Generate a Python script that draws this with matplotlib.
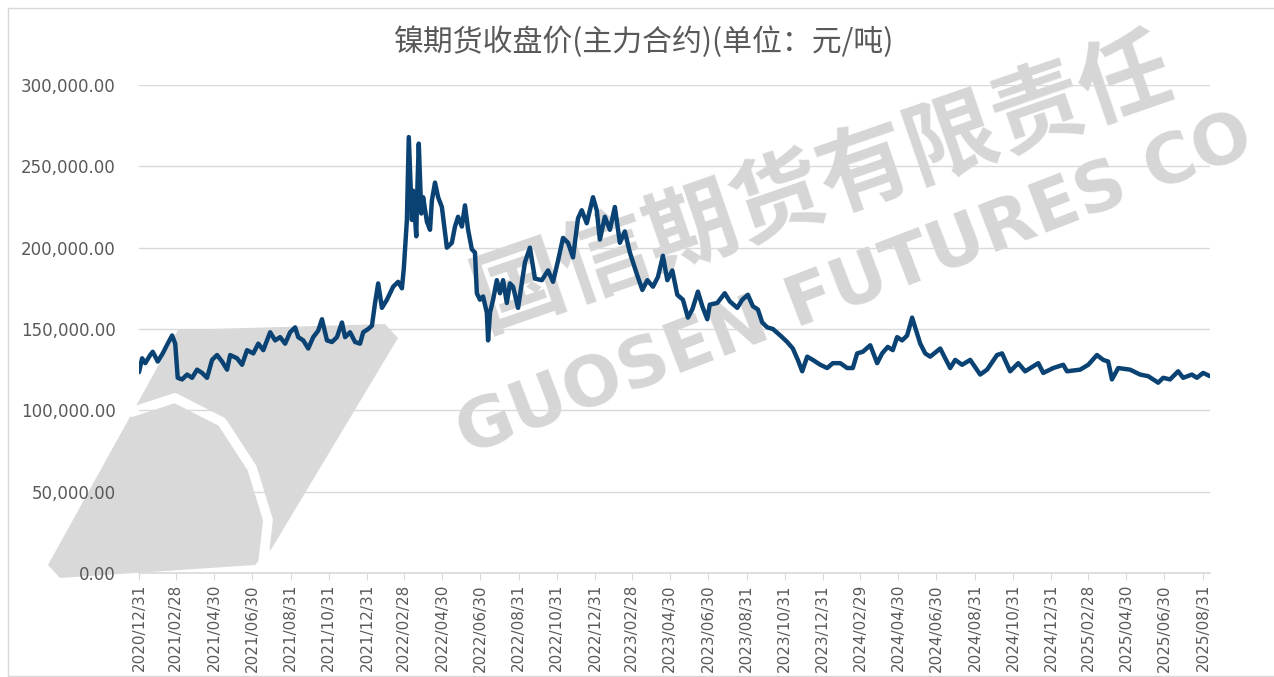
import matplotlib
matplotlib.use("Agg")
import matplotlib.pyplot as plt
import matplotlib.dates as mdates
from matplotlib.patches import Polygon
from matplotlib.lines import Line2D
from matplotlib.ticker import FuncFormatter
import pandas as pd

# closing prices (yuan / ton)
dates = [
    "2020-12-31", "2021-01-05", "2021-01-10", "2021-01-18", "2021-01-22", "2021-01-30",
    "2021-02-07", "2021-02-15", "2021-02-22", "2021-02-27", "2021-03-03", "2021-03-10",
    "2021-03-18", "2021-03-26", "2021-04-03", "2021-04-11", "2021-04-19", "2021-04-27",
    "2021-05-05", "2021-05-13", "2021-05-21", "2021-05-26", "2021-06-06", "2021-06-14",
    "2021-06-22", "2021-07-02", "2021-07-10", "2021-07-18", "2021-07-29", "2021-08-06",
    "2021-08-14", "2021-08-22", "2021-08-30", "2021-09-07", "2021-09-12", "2021-09-20",
    "2021-09-28", "2021-10-06", "2021-10-14", "2021-10-20", "2021-10-28", "2021-11-05",
    "2021-11-13", "2021-11-21", "2021-11-26", "2021-12-04", "2021-12-12", "2021-12-20",
    "2021-12-25", "2022-01-02", "2022-01-08", "2022-01-13", "2022-01-18", "2022-01-24",
    "2022-02-01", "2022-02-11", "2022-02-19", "2022-02-25", "2022-02-28", "2022-03-05",
    "2022-03-08", "2022-03-13", "2022-03-15", "2022-03-20", "2022-03-21", "2022-03-24",
    "2022-03-28", "2022-03-31", "2022-04-06", "2022-04-11", "2022-04-14", "2022-04-19",
    "2022-04-24", "2022-04-30", "2022-05-08", "2022-05-16", "2022-05-21", "2022-05-26",
    "2022-06-01", "2022-06-06", "2022-06-11", "2022-06-17", "2022-06-22", "2022-06-25",
    "2022-06-30", "2022-07-05", "2022-07-11", "2022-07-13", "2022-07-16", "2022-07-21",
    "2022-07-27", "2022-08-01", "2022-08-06", "2022-08-12", "2022-08-17", "2022-08-22",
    "2022-08-30", "2022-09-10", "2022-09-18", "2022-09-26", "2022-10-07", "2022-10-17",
    "2022-10-25", "2022-11-02", "2022-11-10", "2022-11-18", "2022-11-26", "2022-12-04",
    "2022-12-10", "2022-12-18", "2022-12-28", "2023-01-03", "2023-01-08", "2023-01-16",
    "2023-01-24", "2023-02-01", "2023-02-09", "2023-02-17", "2023-02-25", "2023-03-08",
    "2023-03-17", "2023-03-25", "2023-04-03", "2023-04-11", "2023-04-19", "2023-04-26",
    "2023-05-04", "2023-05-12", "2023-05-21", "2023-05-29", "2023-06-05", "2023-06-14",
    "2023-06-21", "2023-06-29", "2023-07-03", "2023-07-15", "2023-07-27", "2023-08-04",
    "2023-08-16", "2023-08-24", "2023-09-02", "2023-09-10", "2023-09-18", "2023-09-25",
    "2023-10-03", "2023-10-12", "2023-10-24", "2023-11-04", "2023-11-13", "2023-11-21",
    "2023-11-28", "2023-12-06", "2023-12-15", "2023-12-27", "2024-01-07", "2024-01-16",
    "2024-01-28", "2024-02-08", "2024-02-17", "2024-02-24", "2024-03-04", "2024-03-16",
    "2024-03-27", "2024-04-04", "2024-04-13", "2024-04-21", "2024-04-28", "2024-05-06",
    "2024-05-14", "2024-05-22", "2024-06-04", "2024-06-12", "2024-06-20", "2024-07-06",
    "2024-07-22", "2024-07-30", "2024-08-10", "2024-08-23", "2024-09-08", "2024-09-19",
    "2024-10-05", "2024-10-13", "2024-10-26", "2024-11-08", "2024-11-19", "2024-12-10",
    "2024-12-18", "2025-01-03", "2025-01-19", "2025-01-25", "2025-02-15", "2025-02-28",
    "2025-03-14", "2025-03-24", "2025-04-01", "2025-04-07", "2025-04-17", "2025-05-06",
    "2025-05-22", "2025-06-04", "2025-06-20", "2025-06-28", "2025-07-09", "2025-07-22",
    "2025-07-30", "2025-08-13", "2025-08-21", "2025-08-31", "2025-09-11",
]
prices = [
    123500, 132000, 129000, 134000, 136000, 130000,
    135000, 141000, 146000, 141000, 120000, 119000,
    122000, 120000, 125000, 123000, 120000, 131000,
    134000, 130000, 125000, 134000, 132000, 128000,
    137000, 135000, 141000, 137000, 148000, 143000,
    145000, 141000, 148000, 151000, 145000, 143000,
    138000, 145000, 149000, 156000, 143000, 142000,
    145000, 154000, 145000, 148000, 142000, 141000,
    148000, 150000, 152000, 166000, 178000, 163000,
    168000, 176000, 179000, 175000, 187000, 217000,
    268000, 217000, 235000, 207000, 227000, 264000,
    221000, 231000, 216000, 211000, 229000, 240000,
    231000, 225000, 200000, 203000, 213000, 219000,
    213000, 226000, 211000, 199000, 197000, 172000,
    168000, 170000, 160000, 143000, 160000, 168000,
    180000, 172000, 180000, 166000, 178000, 176000,
    163000, 191000, 200000, 181000, 180000, 186000,
    179000, 192000, 206000, 203000, 194000, 218000,
    223000, 215000, 231000, 223000, 205000, 219000,
    211000, 225000, 203000, 210000, 197000, 184000,
    174000, 180000, 176000, 182000, 195000, 180000,
    186000, 171000, 168000, 157000, 162000, 173000,
    164000, 156000, 165000, 166000, 172000, 167000,
    163000, 168000, 171000, 164000, 162000, 154000,
    151000, 150000, 146000, 142000, 138000, 131000,
    124000, 133000, 131000, 128000, 126000, 129000,
    129000, 126000, 126000, 135000, 136000, 140000,
    129000, 135000, 139000, 137000, 145000, 143000,
    146000, 157000, 141000, 135000, 133000, 138000,
    126000, 131000, 128000, 131000, 122000, 125000,
    134000, 135000, 124000, 129000, 124000, 129000,
    123000, 126000, 128000, 124000, 125000, 128000,
    134000, 131000, 130000, 119000, 126000, 125000,
    122000, 121000, 117000, 120000, 119000, 124000,
    120000, 122000, 120000, 123000, 121000,
]

title = "镍期货收盘价(主力合约)(单位：元/吨)"
wm_cn = "国信期货有限责任"
wm_en = "GUOSEN FUTURES CO"

W, H = 1274, 677


def fx(x):
    return x / W


def fy(y):
    return 1 - y / H


plt.rcParams['font.family'] = ['DejaVu Sans', 'Noto Sans CJK SC']

fig = plt.figure(figsize=(W / 100, H / 100), dpi=100)
fig.patch.set_facecolor('white')

'''watermark behind the plot'''
logo = Polygon([(fx(178), fy(330)), (fx(385), fy(324)), (fx(398), fy(338)),
                (fx(272), fy(548)), (fx(255), fy(565)), (fx(60), fy(578)),
                (fx(48), fy(565))], closed=True, transform=fig.transFigure,
               facecolor='#D9D9D9', edgecolor='none', zorder=-2)
fig.add_artist(logo)
fig.add_artist(Line2D([fx(132), fx(175), fx(222), fx(252), fx(268), fx(262)],
                      [fy(412), fy(398), fy(422), fy(468), fy(520), fy(572)],
                      transform=fig.transFigure, color='white', lw=7,
                      solid_capstyle='round', zorder=-1.5))
fig.text(fx(822), fy(185), wm_cn, fontsize=66, fontweight='bold', color='#D6D6D6',
         family=['Noto Sans CJK SC'], rotation=19, ha='center', va='center', zorder=-1)
fig.text(fx(855), fy(285), wm_en, fontsize=50, fontweight='bold', color='#D6D6D6',
         rotation=21, ha='center', va='center', zorder=-1)

'''chart border'''
for xs, ys in [([8, 8], [8, 676]), ([8, 1274], [8, 8]), ([8, 1274], [676, 676])]:
    fig.add_artist(Line2D([fx(v) for v in xs], [fy(v) for v in ys],
                          transform=fig.transFigure, color='#D9D9D9', lw=1))

ax = fig.add_axes([fx(139), fy(573), fx(1210) - fx(139), fy(85) - fy(573)])
ax.patch.set_alpha(0)

x = pd.to_datetime(dates)
ax.plot(x, prices, color='#0A4373', lw=3.2, solid_joinstyle='round',
        solid_capstyle='round', zorder=3)

ax.set_ylim(0, 300000)
ax.set_yticks(range(0, 300001, 50000))
ax.yaxis.set_major_formatter(FuncFormatter(lambda v, p: f"{v:,.2f}"))
ax.grid(axis='y', color='#D9D9D9', lw=1)
ax.set_axisbelow(True)

ticks = pd.date_range('2020-12-31', '2025-08-31', freq='2ME')
ax.set_xlim(x[0], x[-1])
ax.set_xticks(ticks)
ax.xaxis.set_major_formatter(mdates.DateFormatter('%Y/%m/%d'))
plt.setp(ax.get_xticklabels(), rotation=90)

for s in ['top', 'right', 'left']:
    ax.spines[s].set_visible(False)
ax.spines['bottom'].set_color('#D9D9D9')
ax.spines['bottom'].set_linewidth(1.2)
ax.tick_params(axis='y', length=0, pad=17, labelsize=12, labelcolor='#595959')
ax.tick_params(axis='x', length=5, color='#D9D9D9', pad=3, labelsize=11,
               labelcolor='#595959')

fig.text(fx(644), fy(42), title, fontsize=21.5, color='#595959', ha='center', va='center',
         family=['Noto Sans CJK SC', 'DejaVu Sans'])

fig.savefig('out.png', dpi=100)
